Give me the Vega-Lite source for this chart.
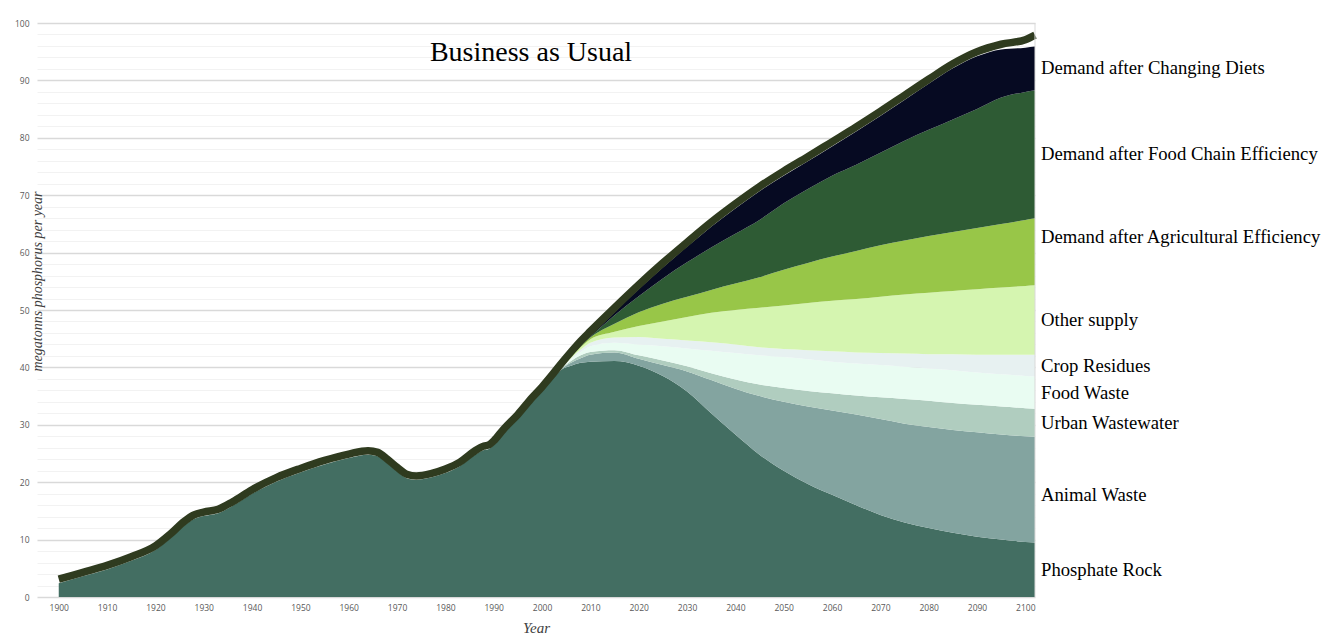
{
  "$schema": "https://vega.github.io/schema/vega-lite/v6.json",
  "width": 998,
  "height": 574,
  "autosize": {"type": "none"},
  "padding": {"left": 37, "top": 23, "right": 290, "bottom": 43},
  "background": "white",
  "config": {"view": {"stroke": null}},
  "title": {"text": "Business as Usual", "font": "Liberation Serif", "fontSize": 28, "fontWeight": "normal", "color": "#000000", "anchor": "middle", "frame": "group", "baseline": "alphabetic", "offset": -70, "dx": -5},
  "data": {"values": [
    {"year": 1900, "Phosphate Rock": 2.4, "Total demand": 3.1},
    {"year": 1905, "Phosphate Rock": 3.6, "Total demand": 4.3},
    {"year": 1910, "Phosphate Rock": 4.8, "Total demand": 5.5},
    {"year": 1915, "Phosphate Rock": 6.3, "Total demand": 7.0},
    {"year": 1920, "Phosphate Rock": 8.2, "Total demand": 8.9},
    {"year": 1923, "Phosphate Rock": 10.2, "Total demand": 10.9},
    {"year": 1926, "Phosphate Rock": 12.5, "Total demand": 13.2},
    {"year": 1928, "Phosphate Rock": 13.6, "Total demand": 14.3},
    {"year": 1930, "Phosphate Rock": 14.1, "Total demand": 14.8},
    {"year": 1933, "Phosphate Rock": 14.6, "Total demand": 15.3},
    {"year": 1936, "Phosphate Rock": 15.9, "Total demand": 16.6},
    {"year": 1940, "Phosphate Rock": 18.0, "Total demand": 18.7},
    {"year": 1945, "Phosphate Rock": 20.1, "Total demand": 20.8},
    {"year": 1950, "Phosphate Rock": 21.7, "Total demand": 22.4},
    {"year": 1955, "Phosphate Rock": 23.1, "Total demand": 23.8},
    {"year": 1960, "Phosphate Rock": 24.2, "Total demand": 24.9},
    {"year": 1964, "Phosphate Rock": 24.8, "Total demand": 25.5},
    {"year": 1966, "Phosphate Rock": 24.5, "Total demand": 25.2},
    {"year": 1968, "Phosphate Rock": 23.3, "Total demand": 24.0},
    {"year": 1970, "Phosphate Rock": 21.9, "Total demand": 22.6},
    {"year": 1972, "Phosphate Rock": 20.7, "Total demand": 21.4},
    {"year": 1974, "Phosphate Rock": 20.4, "Total demand": 21.1},
    {"year": 1977, "Phosphate Rock": 20.8, "Total demand": 21.5},
    {"year": 1980, "Phosphate Rock": 21.6, "Total demand": 22.3},
    {"year": 1983, "Phosphate Rock": 22.8, "Total demand": 23.5},
    {"year": 1986, "Phosphate Rock": 24.7, "Total demand": 25.4},
    {"year": 1988, "Phosphate Rock": 25.6, "Total demand": 26.3},
    {"year": 1989, "Phosphate Rock": 25.8, "Total demand": 26.5},
    {"year": 1990, "Phosphate Rock": 26.5, "Total demand": 27.2},
    {"year": 1992, "Phosphate Rock": 28.5, "Total demand": 29.2},
    {"year": 1995, "Phosphate Rock": 31.1, "Total demand": 31.8},
    {"year": 1998, "Phosphate Rock": 34.1, "Total demand": 34.8},
    {"year": 2000, "Phosphate Rock": 35.9, "Total demand": 36.6},
    {"year": 2002, "Phosphate Rock": 37.9, "Total demand": 38.6},
    {"year": 2004, "Phosphate Rock": 39.6, "Animal Waste": 0.1, "Urban Wastewater": 0.05, "Food Waste": 0.05, "Crop Residues": 0.05, "Other supply": 0.05, "Demand after Agricultural Efficiency": 0.05, "Demand after Food Chain Efficiency": 0.05, "Demand after Changing Diets": 0.0, "Total demand": 40.7},
    {"year": 2006, "Phosphate Rock": 40.3, "Animal Waste": 0.5, "Urban Wastewater": 0.3, "Food Waste": 0.3, "Crop Residues": 0.2, "Other supply": 0.2, "Demand after Agricultural Efficiency": 0.1, "Demand after Food Chain Efficiency": 0.1, "Demand after Changing Diets": 0.0, "Total demand": 42.7},
    {"year": 2008, "Phosphate Rock": 40.8, "Animal Waste": 0.8, "Urban Wastewater": 0.5, "Food Waste": 0.6, "Crop Residues": 0.4, "Other supply": 0.4, "Demand after Agricultural Efficiency": 0.2, "Demand after Food Chain Efficiency": 0.15, "Demand after Changing Diets": 0.05, "Total demand": 44.6},
    {"year": 2010, "Phosphate Rock": 41.0, "Animal Waste": 1.2, "Urban Wastewater": 0.5, "Food Waste": 1.0, "Crop Residues": 0.6, "Other supply": 0.6, "Demand after Agricultural Efficiency": 0.3, "Demand after Food Chain Efficiency": 0.2, "Demand after Changing Diets": 0.1, "Total demand": 46.3},
    {"year": 2015, "Phosphate Rock": 41.1, "Animal Waste": 1.5, "Urban Wastewater": 0.4, "Food Waste": 1.3, "Crop Residues": 0.9, "Other supply": 1.0, "Demand after Agricultural Efficiency": 1.4, "Demand after Food Chain Efficiency": 1.5, "Demand after Changing Diets": 0.5, "Total demand": 50.4},
    {"year": 2020, "Phosphate Rock": 40.3, "Animal Waste": 1.2, "Urban Wastewater": 0.6, "Food Waste": 1.9, "Crop Residues": 1.3, "Other supply": 1.9, "Demand after Agricultural Efficiency": 2.4, "Demand after Food Chain Efficiency": 2.8, "Demand after Changing Diets": 1.2, "Total demand": 54.4},
    {"year": 2025, "Phosphate Rock": 38.5, "Animal Waste": 1.9, "Urban Wastewater": 0.8, "Food Waste": 2.5, "Crop Residues": 1.3, "Other supply": 3.0, "Demand after Agricultural Efficiency": 3.1, "Demand after Food Chain Efficiency": 4.4, "Demand after Changing Diets": 1.9, "Total demand": 58.2},
    {"year": 2030, "Phosphate Rock": 35.8, "Animal Waste": 3.5, "Urban Wastewater": 0.9, "Food Waste": 3.1, "Crop Residues": 1.4, "Other supply": 4.1, "Demand after Agricultural Efficiency": 3.5, "Demand after Food Chain Efficiency": 6.0, "Demand after Changing Diets": 2.7, "Total demand": 61.8},
    {"year": 2035, "Phosphate Rock": 32.0, "Animal Waste": 5.8, "Urban Wastewater": 1.2, "Food Waste": 3.9, "Crop Residues": 1.5, "Other supply": 5.1, "Demand after Agricultural Efficiency": 4.0, "Demand after Food Chain Efficiency": 7.4, "Demand after Changing Diets": 3.6, "Total demand": 65.3},
    {"year": 2040, "Phosphate Rock": 28.3, "Animal Waste": 8.0, "Urban Wastewater": 1.6, "Food Waste": 4.6, "Crop Residues": 1.5, "Other supply": 6.0, "Demand after Agricultural Efficiency": 4.6, "Demand after Food Chain Efficiency": 8.7, "Demand after Changing Diets": 4.4, "Total demand": 68.5},
    {"year": 2045, "Phosphate Rock": 24.8, "Animal Waste": 10.2, "Urban Wastewater": 2.0, "Food Waste": 5.1, "Crop Residues": 1.4, "Other supply": 6.9, "Demand after Agricultural Efficiency": 5.3, "Demand after Food Chain Efficiency": 10.0, "Demand after Changing Diets": 5.0, "Total demand": 71.5},
    {"year": 2050, "Phosphate Rock": 22.0, "Animal Waste": 12.0, "Urban Wastewater": 2.4, "Food Waste": 5.4, "Crop Residues": 1.4, "Other supply": 7.6, "Demand after Agricultural Efficiency": 6.2, "Demand after Food Chain Efficiency": 11.6, "Demand after Changing Diets": 4.8, "Total demand": 74.2},
    {"year": 2055, "Phosphate Rock": 19.7, "Animal Waste": 13.5, "Urban Wastewater": 2.7, "Food Waste": 5.5, "Crop Residues": 1.6, "Other supply": 8.2, "Demand after Agricultural Efficiency": 7.0, "Demand after Food Chain Efficiency": 12.9, "Demand after Changing Diets": 4.8, "Total demand": 76.7},
    {"year": 2060, "Phosphate Rock": 17.8, "Animal Waste": 14.7, "Urban Wastewater": 3.0, "Food Waste": 5.5, "Crop Residues": 1.8, "Other supply": 8.8, "Demand after Agricultural Efficiency": 7.7, "Demand after Food Chain Efficiency": 14.1, "Demand after Changing Diets": 5.1, "Total demand": 79.3},
    {"year": 2065, "Phosphate Rock": 16.0, "Animal Waste": 15.8, "Urban Wastewater": 3.3, "Food Waste": 5.6, "Crop Residues": 1.9, "Other supply": 9.3, "Demand after Agricultural Efficiency": 8.4, "Demand after Food Chain Efficiency": 15.0, "Demand after Changing Diets": 5.8, "Total demand": 81.9},
    {"year": 2070, "Phosphate Rock": 14.3, "Animal Waste": 16.7, "Urban Wastewater": 3.8, "Food Waste": 5.6, "Crop Residues": 2.1, "Other supply": 9.8, "Demand after Agricultural Efficiency": 9.0, "Demand after Food Chain Efficiency": 16.1, "Demand after Changing Diets": 6.4, "Total demand": 84.6},
    {"year": 2075, "Phosphate Rock": 13.0, "Animal Waste": 17.2, "Urban Wastewater": 4.3, "Food Waste": 5.6, "Crop Residues": 2.3, "Other supply": 10.3, "Demand after Agricultural Efficiency": 9.4, "Demand after Food Chain Efficiency": 17.4, "Demand after Changing Diets": 7.1, "Total demand": 87.4},
    {"year": 2080, "Phosphate Rock": 12.0, "Animal Waste": 17.6, "Urban Wastewater": 4.6, "Food Waste": 5.6, "Crop Residues": 2.5, "Other supply": 10.7, "Demand after Agricultural Efficiency": 9.9, "Demand after Food Chain Efficiency": 18.5, "Demand after Changing Diets": 8.0, "Total demand": 90.2},
    {"year": 2085, "Phosphate Rock": 11.2, "Animal Waste": 17.9, "Urban Wastewater": 4.7, "Food Waste": 5.7, "Crop Residues": 2.8, "Other supply": 11.0, "Demand after Agricultural Efficiency": 10.3, "Demand after Food Chain Efficiency": 19.6, "Demand after Changing Diets": 8.9, "Total demand": 92.9},
    {"year": 2090, "Phosphate Rock": 10.5, "Animal Waste": 18.2, "Urban Wastewater": 4.8, "Food Waste": 5.6, "Crop Residues": 3.1, "Other supply": 11.4, "Demand after Agricultural Efficiency": 10.7, "Demand after Food Chain Efficiency": 20.7, "Demand after Changing Diets": 9.2, "Total demand": 95.0},
    {"year": 2095, "Phosphate Rock": 10.0, "Animal Waste": 18.3, "Urban Wastewater": 4.9, "Food Waste": 5.6, "Crop Residues": 3.4, "Other supply": 11.7, "Demand after Agricultural Efficiency": 11.1, "Demand after Food Chain Efficiency": 22.0, "Demand after Changing Diets": 8.4, "Total demand": 96.3},
    {"year": 2100, "Phosphate Rock": 9.6, "Animal Waste": 18.4, "Urban Wastewater": 4.9, "Food Waste": 5.6, "Crop Residues": 3.7, "Other supply": 12.0, "Demand after Agricultural Efficiency": 11.5, "Demand after Food Chain Efficiency": 22.3, "Demand after Changing Diets": 7.7, "Total demand": 97.1},
    {"year": 2102, "Phosphate Rock": 9.5, "Animal Waste": 18.4, "Urban Wastewater": 4.9, "Food Waste": 5.6, "Crop Residues": 3.8, "Other supply": 12.1, "Demand after Agricultural Efficiency": 11.7, "Demand after Food Chain Efficiency": 22.3, "Demand after Changing Diets": 7.6, "Total demand": 97.9}
  ]},
  "transform": [
    {"fold": ["Phosphate Rock", "Animal Waste", "Urban Wastewater", "Food Waste", "Crop Residues", "Other supply", "Demand after Agricultural Efficiency", "Demand after Food Chain Efficiency", "Demand after Changing Diets", "Total demand"], "as": ["series", "value"]},
    {"filter": "isValid(datum.value)"},
    {"calculate": "indexof(['Phosphate Rock', 'Animal Waste', 'Urban Wastewater', 'Food Waste', 'Crop Residues', 'Other supply', 'Demand after Agricultural Efficiency', 'Demand after Food Chain Efficiency', 'Demand after Changing Diets', 'Total demand'], datum.series)", "as": "ord"}
  ],
  "encoding": {
    "x": {"field": "year", "type": "quantitative", "title": "Year",
      "scale": {"domain": [1895.5, 2102], "nice": false, "zero": false},
      "axis": {"values": [1900, 1910, 1920, 1930, 1940, 1950, 1960, 1970, 1980, 1990, 2000, 2010, 2020, 2030, 2040, 2050, 2060, 2070, 2080, 2090, 2100], "format": "d", "grid": false, "domain": false, "ticks": false, "labelFont": "Open Sans", "labelFontSize": 8.5, "labelColor": "#595959", "labelPadding": 6, "labelFlush": false, "labelOverlap": false, "titleFont": "Liberation Serif", "titleFontStyle": "italic", "titleFontWeight": "normal", "titleFontSize": 15, "titleColor": "#404040", "titleBaseline": "alphabetic", "titleY": 35}},
    "y": {"field": "value", "type": "quantitative", "title": "megatonns phosphorus per year",
      "scale": {"domain": [0, 100], "nice": false},
      "axis": {"values": [0, 2, 4, 6, 8, 10, 12, 14, 16, 18, 20, 22, 24, 26, 28, 30, 32, 34, 36, 38, 40, 42, 44, 46, 48, 50, 52, 54, 56, 58, 60, 62, 64, 66, 68, 70, 72, 74, 76, 78, 80, 82, 84, 86, 88, 90, 92, 94, 96, 98, 100],
        "labelExpr": "datum.value % 10 === 0 ? datum.label : ''",
        "grid": true,
        "gridColor": {"condition": {"test": "datum.value % 10 === 0", "value": "#d9d9d9"}, "value": "#f2f2f2"},
        "gridWidth": {"condition": {"test": "datum.value % 10 === 0", "value": 1.5}, "value": 1},
        "domain": false, "ticks": false, "labelFont": "Open Sans", "labelFontSize": 8.5, "labelColor": "#595959", "labelPadding": 8, "labelOverlap": false,
        "titleFont": "Liberation Serif", "titleFontStyle": "italic", "titleFontWeight": "normal", "titleFontSize": 14, "titleColor": "#404040", "titleAngle": -90, "titleBaseline": "alphabetic", "titleAlign": "center", "titleX": 4, "titleY": 258}}
  },
  "layer": [
    {
      "transform": [{"filter": "datum.series !== 'Total demand'"}],
      "mark": {"type": "area", "interpolate": "monotone"},
      "encoding": {
        "y": {"field": "value", "type": "quantitative", "stack": "zero", "title": "megatonns phosphorus per year"},
        "color": {"field": "series", "type": "nominal", "legend": null,
          "scale": {"domain": ["Phosphate Rock", "Animal Waste", "Urban Wastewater", "Food Waste", "Crop Residues", "Other supply", "Demand after Agricultural Efficiency", "Demand after Food Chain Efficiency", "Demand after Changing Diets"],
                    "range": ["#436e62", "#83a4a0", "#b0cdbf", "#e9fcf2", "#e7f1f1", "#d5f5b0", "#98c648", "#2e5b34", "#060a22"]}},
        "order": {"field": "ord", "type": "quantitative"}
      }
    },
    {
      "transform": [{"filter": "datum.series === 'Total demand'"}],
      "mark": {"type": "line", "interpolate": "monotone", "color": "#2f3b1f", "strokeWidth": 7.5, "strokeCap": "butt", "strokeJoin": "round"}
    },
    {
      "transform": [{"filter": "datum.series === 'Total demand' && datum.year === 2102"}],
      "mark": {"type": "rule", "color": "#d9d9d9", "strokeWidth": 1},
      "encoding": {
        "y": {"datum": 0, "type": "quantitative", "title": "megatonns phosphorus per year"},
        "y2": {"datum": 100}
      }
    },
    {
      "transform": [
        {"filter": "datum.series !== 'Total demand' && datum.year === 2102"},
        {"stack": "value", "groupby": ["year"], "sort": [{"field": "ord", "order": "ascending"}], "as": ["v0", "v1"]},
        {"calculate": "(datum.v0 + datum.v1) / 2", "as": "value"}
      ],
      "encoding": {
        "text": {"field": "series", "type": "nominal"}
      },
      "layer": [
        {
          "transform": [{"filter": "datum.series !== 'Demand after Agricultural Efficiency' && datum.series !== 'Animal Waste'"}],
          "mark": {"type": "text", "align": "left", "baseline": "middle", "dx": 6, "font": "Liberation Serif", "fontSize": 18.7, "color": "#000000", "clip": false}
        },
        {
          "transform": [{"filter": "datum.series === 'Demand after Agricultural Efficiency'"}],
          "mark": {"type": "text", "align": "left", "baseline": "middle", "dx": 6, "dy": -15, "font": "Liberation Serif", "fontSize": 18.7, "color": "#000000", "clip": false}
        },
        {
          "transform": [{"filter": "datum.series === 'Animal Waste'"}],
          "mark": {"type": "text", "align": "left", "baseline": "middle", "dx": 6, "dy": 5, "font": "Liberation Serif", "fontSize": 18.7, "color": "#000000", "clip": false}
        }
      ]
    }
  ]
}
